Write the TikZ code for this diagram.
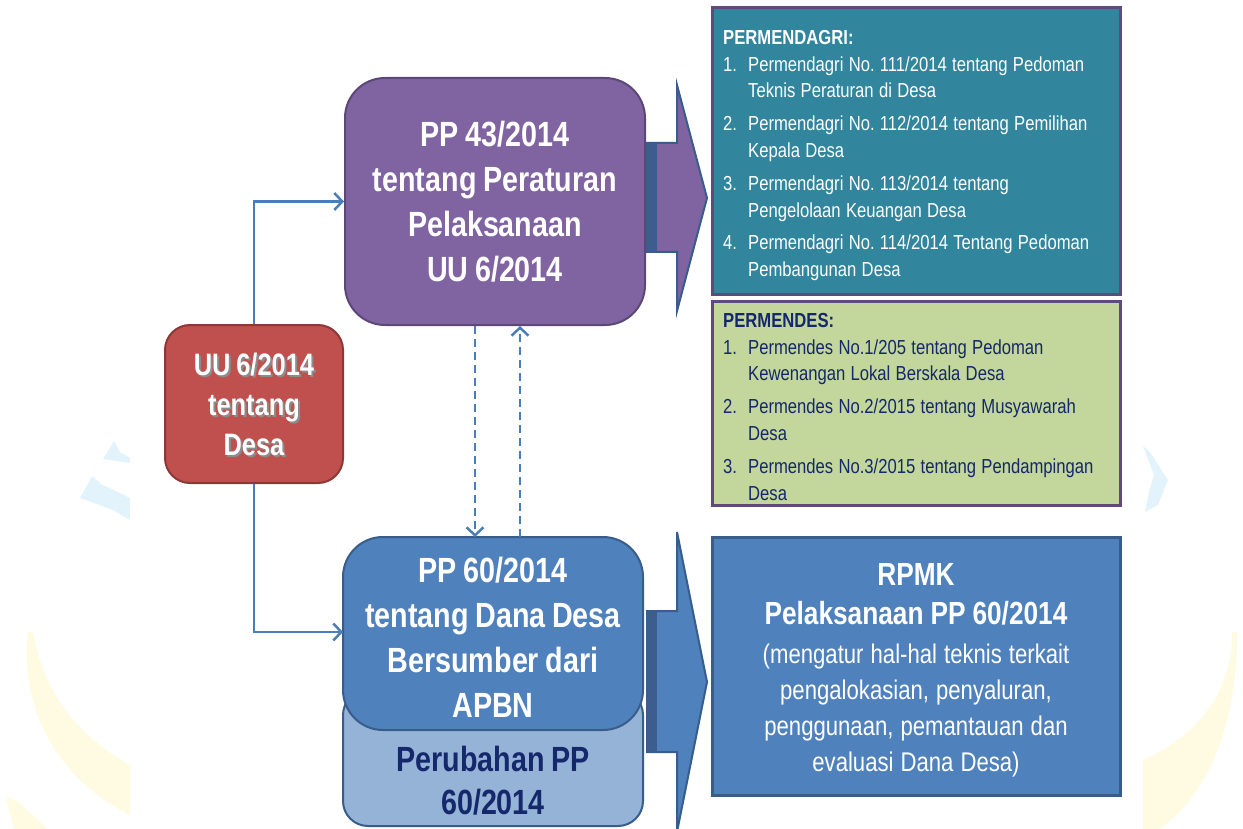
\documentclass[tikz,border=0pt]{standalone}
\usepackage{fontspec}
\setmainfont{Liberation Sans}[FakeStretch=0.82, WordSpace=0.82]
\usetikzlibrary{calc,arrows.meta}

\definecolor{ppungu}{HTML}{8064A2}
\definecolor{ppunguline}{HTML}{5C4776}
\definecolor{uumerah}{HTML}{C0504D}
\definecolor{uumerahline}{HTML}{8C3836}
\definecolor{ppbiru}{HTML}{4F81BD}
\definecolor{ppbiruline}{HTML}{385D8A}
\definecolor{ppbirumuda}{HTML}{95B3D7}
\definecolor{dagriteal}{HTML}{31859C}
\definecolor{desahijau}{HTML}{C3D69B}
\definecolor{listline}{HTML}{604A7B}
\definecolor{navy}{HTML}{14286B}
\definecolor{konektor}{HTML}{4A7EBB}
\definecolor{strip}{HTML}{3D5D8E}
\definecolor{wmkuning}{HTML}{FFFBE3}
\definecolor{wmbiru}{HTML}{E2F3FC}

\newcommand{\tightspace}{\frenchspacing\spaceskip=0.26em\relax\xspaceskip=0.26em\relax}
\newcommand{\lawline}[3]{\makebox[25pt][l]{#1.}#2\\\hspace*{25pt}#3}
\newcommand{\uutext}{UU 6/2014\\tentang\\Desa}

\tikzset{
  ppbox/.style={draw, line width=2pt, rounded corners=40pt, align=center, text=white,
    font=\fontsize{35}{45}\selectfont\bfseries},
  listbox/.style={draw=listline, line width=3pt},
  listtext/.style={anchor=north west, inner sep=0pt, text width=400pt, align=left,
    font=\fontsize{20.3}{26.8}\selectfont},
  link/.style={-{Straight Barb[length=8pt, width=17pt, line width=2.5pt]}, konektor, line width=2.5pt},
  blockarrow/.style={draw=ppbiruline, line width=2pt, line join=miter}
}

\begin{document}
\begin{tikzpicture}[x=1pt, y=-1pt]
		%%%%% START %%%%%
		\useasboundingbox (0,0) rectangle (1243,829);
		
		% watermark
		\fill[wmkuning] (28,632) .. controls (20,700) and (50,775) .. (130,815) -- (130,765) .. controls (85,740) and (45,700) .. (33,632) -- cycle;
		\fill[wmkuning] (6,797) -- (16,800) -- (48,829) -- (14,829) -- cycle;
		\fill[wmkuning] (1232,632) .. controls (1232,690) and (1200,735) .. (1143,760) -- (1143,829) -- (1160,829) .. controls (1215,790) and (1238,710) .. (1237,632) -- cycle;
		\fill[wmbiru] (114,441) -- (120,452) -- (130,458) -- (130,463) -- (103,459) -- cycle;
		\fill[wmbiru] (92,476) -- (101,484) -- (130,498) -- (130,520) -- (113,510) -- (80,498) -- cycle;
		\fill[wmbiru] (1143,446) -- (1150,452) -- (1168,480) -- (1158,505) -- (1145,512) -- (1149,492) -- (1154,475) -- cycle;
		
		% block arrows
		\draw[blockarrow, fill=ppungu] (647,143) -- (677,143) -- (677,85) -- (707,198) -- (677,311) -- (677,252) -- (647,252) -- cycle;
		\fill[strip] (647,144) rectangle (657,251);
		\draw[blockarrow, fill=ppbiru] (647,611) -- (677,611) -- (677,532) -- (707,682) -- (677,832) -- (677,752) -- (647,752) -- cycle;
		\fill[strip] (647,612) rectangle (657,751);
		
		% left column
		\node[ppbox, fill=uumerah, draw=uumerahline, rounded corners=25pt, minimum width=178pt, minimum height=158pt] (uu) at (254,404) {};
		\node[align=center, text=black!45, font=\fontsize{31}{40}\selectfont\bfseries] (uushade) at (256,406) {\uutext};
		\node[align=center, text=white, font=\fontsize{31}{40}\selectfont\bfseries] (uutxt) at (uu) {\uutext};
		
		\node[ppbox, fill=ppungu, draw=ppunguline, minimum width=300pt, minimum height=247pt] (pp43) at (495,201.5) {PP 43/2014\\tentang Peraturan\\Pelaksanaan\\UU 6/2014};
		
		\draw[fill=ppbirumuda, draw=ppbiruline, line width=2pt, rounded corners=25pt] (343,690) rectangle (643,826);
		\node[align=center, text=navy, font=\fontsize{35}{43}\selectfont\bfseries] (ubah) at (493,781) {Perubahan PP\\60/2014};
		\draw[fill=ppbiru, draw=ppbiruline, line width=2pt, rounded corners=40pt] (343,537) rectangle (643,730);
		\node[align=center, text=white, font=\fontsize{35}{45}\selectfont\bfseries, minimum width=300pt, minimum height=193pt] (pp60) at (493,637) {PP 60/2014\\tentang Dana Desa\\Bersumber dari\\APBN};
		
		% connectors
		\draw[link] (uu.north) |- (pp43.west);
		\draw[link] (uu.south) |- (343,632);
		\draw[link, dash pattern=on 8pt off 5pt] ([xshift=-20pt]pp43.south) -- (475,537);
		\draw[link, dash pattern=on 8pt off 5pt] (520,537) -- ([xshift=25pt]pp43.south);
		
		% right column
		\draw[listbox, fill=dagriteal] (712,8) rectangle (1120,295);
		\node[listtext, text=white] (dagri) at (723,30) {\tightspace\textbf{PERMENDAGRI:}\\
			\lawline{1}{Permendagri No. 111/2014 tentang Pedoman}{Teknis Peraturan di Desa}\\[6pt]
			\lawline{2}{Permendagri No. 112/2014 tentang Pemilihan}{Kepala Desa}\\[6pt]
			\lawline{3}{Permendagri No. 113/2014 tentang}{Pengelolaan Keuangan Desa}\\[6pt]
			\lawline{4}{Permendagri No. 114/2014 Tentang Pedoman}{Pembangunan Desa}};
		
		\draw[listbox, fill=desahijau] (712,302) rectangle (1120,505);
		\node[listtext, text=navy] (desa) at (723,313) {\tightspace\textbf{PERMENDES:}\\
			\lawline{1}{Permendes No.1/205 tentang Pedoman}{Kewenangan Lokal Berskala Desa}\\[6pt]
			\lawline{2}{Permendes No.2/2015 tentang Musyawarah}{Desa}\\[6pt]
			\lawline{3}{Permendes No.3/2015 tentang Pendampingan}{Desa}};
		
		\draw[draw=ppbiruline, line width=3pt, fill=ppbiru] (712,537) rectangle (1120,795);
		\node[text=white, text width=390pt, align=center, font=\fontsize{27}{36}\selectfont] (rpmk) at (916,670) {\tightspace{\fontsize{32}{40}\selectfont\bfseries RPMK}\\[3pt]
			{\fontsize{32}{40}\selectfont\bfseries Pelaksanaan PP 60/2014}\\[3pt]
			(mengatur hal-hal teknis terkait\\pengalokasian, penyaluran,\\penggunaan, pemantauan dan\\evaluasi Dana Desa)};
		
		%%%%% END %%%%%
	\end{tikzpicture}
\end{document}
